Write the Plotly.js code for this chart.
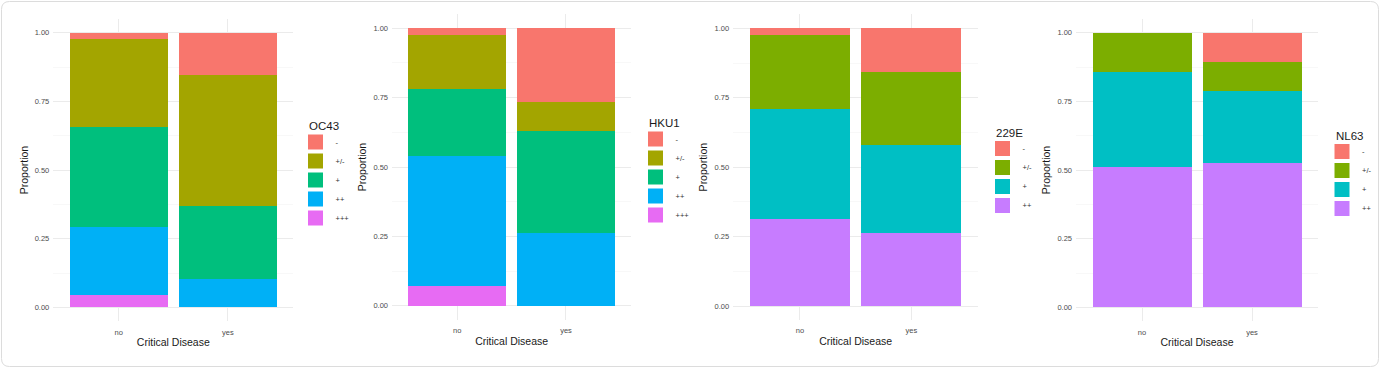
<!DOCTYPE html>
<html>
<head>
<meta charset="utf-8">
<script src="https://cdn.plot.ly/plotly-3.0.1.min.js"></script>
<style>html,body{margin:0;padding:0;background:#fff;}#chart{width:1380px;height:369px;}</style>
</head>
<body>
<div id="chart"></div>
<script>
// ---- data ----
var categories = ['no', 'yes'];
var levels5 = ['-', '+/-', '+', '++', '+++'];
var levels4 = ['-', '+/-', '+', '++'];
var colors5 = ['#F8766D', '#A3A500', '#00BF7D', '#00B0F6', '#E76BF3'];
var colors4 = ['#F8766D', '#7CAE00', '#00BFC4', '#C77CFF'];
var yTickVals = [0, 0.25, 0.5, 0.75, 1];
var yTickText = ['0.00', '0.25', '0.50', '0.75', '1.00'];

// proportions per level: [no, yes]
var oc43 = {'-': [0.021, 0.154], '+/-': [0.321, 0.477], '+': [0.367, 0.267], '++': [0.246, 0.102], '+++': [0.045, 0]};
var hku1 = {'-': [0.024, 0.264], '+/-': [0.196, 0.106], '+': [0.240, 0.369], '++': [0.468, 0.261], '+++': [0.072, 0]};
var e229 = {'-': [0.024, 0.158], '+/-': [0.268, 0.263], '+': [0.393, 0.317], '++': [0.315, 0.262]};
var nl63 = {'-': [0, 0.106], '+/-': [0.144, 0.105], '+': [0.346, 0.265], '++': [0.510, 0.524]};

var panelNames = ['OC43', 'HKU1', '229E', 'NL63'];

// ---- layout helpers (pixels -> paper) ----
var W = 1380, H = 369;
function px(x) { return x / W; }
function py(y) { return 1 - y / H; }

var panels = [
  {name: panelNames[0], data: oc43, levels: levels5, colors: colors5, x0: 53.3, x1: 293.3, yTop: 19.0, yBot: 321.1, lx: 295.5, ly: 127.5, tx: 307, ty: 126},
  {name: panelNames[1], data: hku1, levels: levels5, colors: colors5, x0: 392.0, x1: 631.2, yTop: 14.4, yBot: 319.6, lx: 635.5, ly: 124.5, tx: 647, ty: 123},
  {name: panelNames[2], data: e229, levels: levels4, colors: colors4, x0: 733.2, x1: 978.1, yTop: 14.4, yBot: 319.9, lx: 982.5, ly: 134, tx: 994, ty: 132.5},
  {name: panelNames[3], data: nl63, levels: levels4, colors: colors4, x0: 1076.0, x1: 1318.0, yTop: 19.0, yBot: 321.1, lx: 1322, ly: 137, tx: 1334, ty: 136}
];

var traces = [];
var layout = {
  width: W, height: H,
  margin: {l: 0, r: 0, t: 0, b: 0},
  paper_bgcolor: '#ffffff',
  plot_bgcolor: '#ffffff',
  barmode: 'stack',
  bargap: 0.1,
  font: {family: 'Liberation Sans, Arial, sans-serif', color: '#4d4d4d'},
  shapes: [],
  annotations: []
};

panels.forEach(function (p, i) {
  var n = i + 1;
  var xa = n === 1 ? 'x' : 'x' + n;
  var ya = n === 1 ? 'y' : 'y' + n;
  var lg = n === 1 ? 'legend' : 'legend' + n;
  // bars: bottom level first
  for (var k = p.levels.length - 1; k >= 0; k--) {
    var lev = p.levels[k];
    traces.push({
      type: 'bar', x: categories, y: p.data[lev], name: lev,
      xaxis: xa, yaxis: ya,
      marker: {color: p.colors[k], line: {width: 0}},
      showlegend: false, hoverinfo: 'x+y+name'
    });
  }
  // legend entries (top to bottom)
  p.levels.forEach(function (lev, k) {
    traces.push({
      type: 'scatter', mode: 'markers', x: [null], y: [null], name: lev,
      xaxis: xa, yaxis: ya, legend: lg,
      marker: {symbol: 'square', size: 15, color: p.colors[k]},
      showlegend: true
    });
  });
  layout[(n === 1 ? 'xaxis' : 'xaxis' + n)] = {
    domain: [px(p.x0), px(p.x1)],
    anchor: ya,
    type: 'category',
    categoryorder: 'array', categoryarray: categories,
    range: [-0.6, 1.6], fixedrange: true,
    showgrid: true, gridcolor: '#ebebeb', gridwidth: 1,
    zeroline: false, showline: false, ticks: '',
    tickfont: {size: 7.5, color: '#4d4d4d'},
    ticklabelstandoff: 5,
    title: {text: 'Critical Disease', font: {size: 10.5, color: '#1a1a1a'}, standoff: 3}
  };
  layout[(n === 1 ? 'yaxis' : 'yaxis' + n)] = {
    domain: [py(p.yBot), py(p.yTop)],
    anchor: xa,
    range: [-0.05, 1.05], fixedrange: true,
    tickvals: yTickVals, ticktext: yTickText,
    showgrid: true, gridcolor: '#ebebeb', gridwidth: 1,
    minor: {tickvals: [0.125, 0.375, 0.625, 0.875], showgrid: true, gridcolor: '#f4f4f4', gridwidth: 0.6, ticks: ''},
    zeroline: false, showline: false, ticks: '',
    tickfont: {size: 7.5, color: '#4d4d4d'},
    ticklabelstandoff: 3,
    title: {text: 'Proportion', font: {size: 10.5, color: '#1a1a1a'}, standoff: 4}
  };
  layout[lg] = {
    x: px(p.lx), y: py(p.ly), xanchor: 'left', yanchor: 'top',
    bgcolor: 'rgba(0,0,0,0)', borderwidth: 0,
    traceorder: 'normal',
    font: {size: 7.5, color: '#333333'}
  };
  // legend title
  layout.annotations.push({
    xref: 'paper', yref: 'paper', x: px(p.tx), y: py(p.ty),
    xanchor: 'left', yanchor: 'middle', showarrow: false,
    text: p.name, font: {size: 11.5, color: '#1a1a1a'}
  });
});

// rounded outer frame
(function () {
  var x0 = px(1.5), x1 = px(1378.5), y0 = py(366.5), y1 = py(1.5);
  var rx = px(8), ry = 8 / H;
  var d = 'M' + (x0 + rx) + ',' + y1 +
    ' L' + (x1 - rx) + ',' + y1 +
    ' Q' + x1 + ',' + y1 + ' ' + x1 + ',' + (y1 - ry) +
    ' L' + x1 + ',' + (y0 + ry) +
    ' Q' + x1 + ',' + y0 + ' ' + (x1 - rx) + ',' + y0 +
    ' L' + (x0 + rx) + ',' + y0 +
    ' Q' + x0 + ',' + y0 + ' ' + x0 + ',' + (y0 + ry) +
    ' L' + x0 + ',' + (y1 - ry) +
    ' Q' + x0 + ',' + y1 + ' ' + (x0 + rx) + ',' + y1 + ' Z';
  layout.shapes.push({type: 'path', xref: 'paper', yref: 'paper', path: d, line: {color: '#dcdcdc', width: 1}, fillcolor: 'rgba(0,0,0,0)', layer: 'below'});
})();

Plotly.newPlot('chart', traces, layout, {displayModeBar: false, staticPlot: true});
</script>
</body>
</html>
